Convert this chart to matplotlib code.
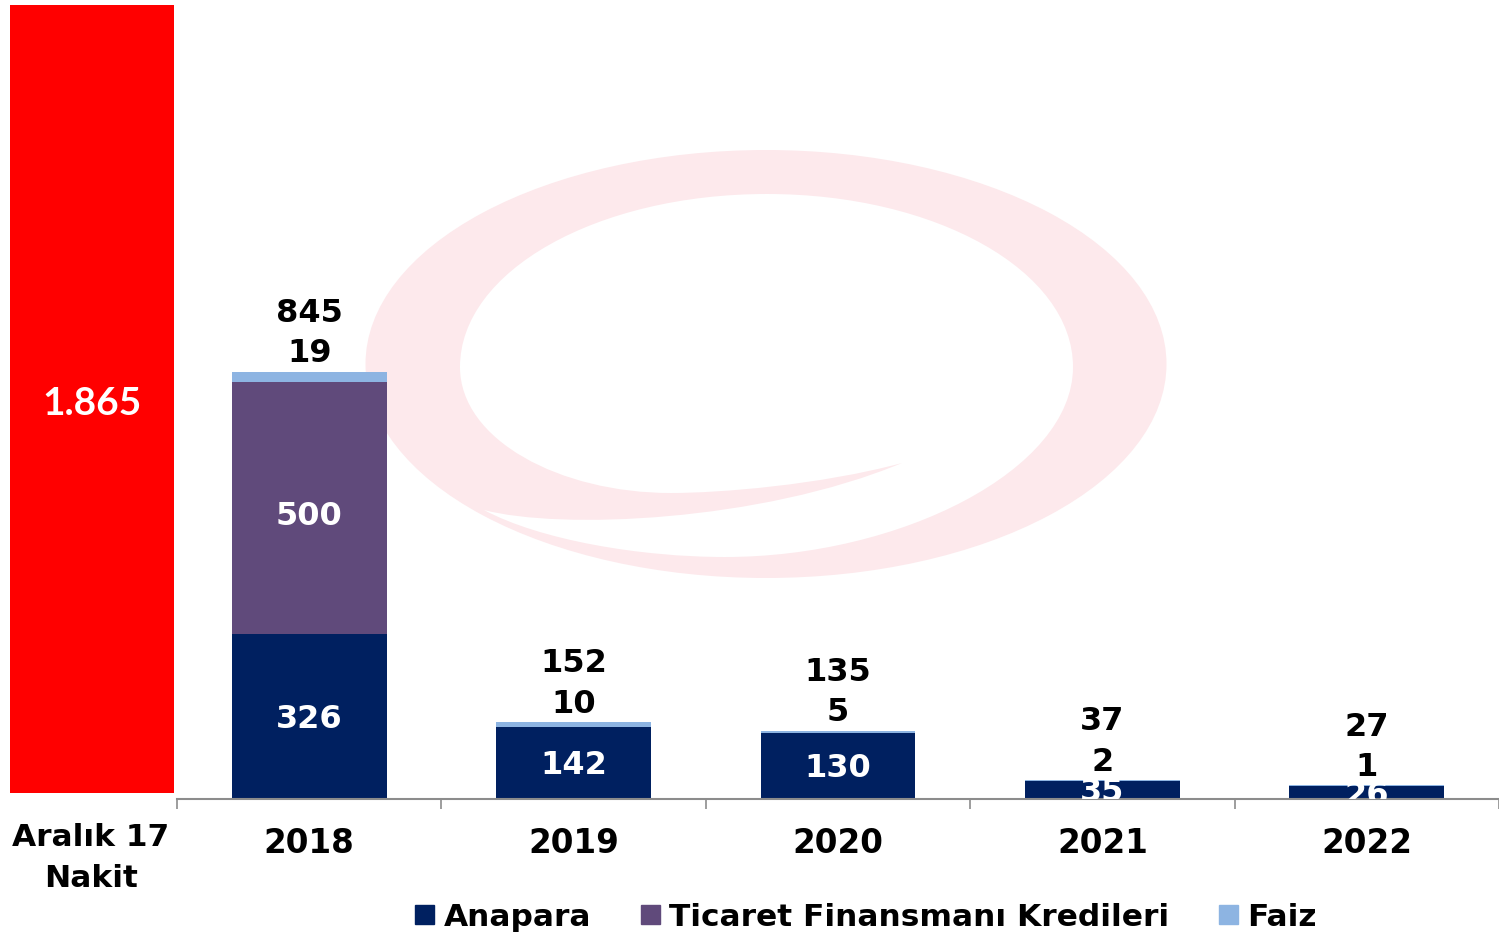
import numpy as np
import matplotlib
matplotlib.use('Agg')
import matplotlib.pyplot as plt
from matplotlib.patches import Ellipse, PathPatch, Patch
from matplotlib.path import Path

# Veriler (milyon)
years = ['2018', '2019', '2020', '2021', '2022']
anapara = [326, 142, 130, 35, 26]
ticaret = [500, 0, 0, 0, 0]
faiz = [19, 10, 5, 2, 1]
toplam = [845, 152, 135, 37, 27]
nakit = 1865
nakit_label = '1.865'
nakit_cat = 'Aralık 17\nNakit'
series_names = ['Anapara', 'Ticaret Finansmanı Kredileri', 'Faiz']

c_anapara = '#002060'
c_ticaret = '#604A7B'
c_faiz = '#8DB4E2'
c_red = '#FF0000'
c_mark = '#FDE9EC'

plt.rcParams['font.family'] = ['DejaVu Sans']
plt.rcParams['font.weight'] = 'bold'

W, H = 1499, 935
fig = plt.figure(figsize=(W / 100, H / 100), dpi=100)

# arka plan logosu (filigran), piksel koordinatlarinda
bg = fig.add_axes([0, 0, 1, 1], zorder=0)
bg.set_xlim(0, W)
bg.set_ylim(H, 0)
bg.axis('off')
bg.add_patch(Ellipse((766, 364), 801, 428, color=c_mark, lw=0))
C4 = Path.CURVE4
hole = Path(
    [(767, 194),
     (936, 194), (1073, 271), (1073, 367),
     (1073, 470), (900, 557), (725, 557),
     (640, 557), (540, 540), (484, 510),
     (560, 530), (760, 522), (902, 463),
     (820, 485), (720, 493), (671, 493),
     (560, 493), (460, 440), (460, 367),
     (460, 271), (597, 194), (767, 194),
     (767, 194)],
    [Path.MOVETO] + [C4] * 21 + [Path.CLOSEPOLY])
bg.add_patch(PathPatch(hole, color='white', lw=0))

# nakit sutunu
ax_red = fig.add_axes([10 / W, (H - 793) / H, 164 / W, 788 / H], zorder=1)
ax_red.bar([0], [nakit], width=1.0, color=c_red)
ax_red.set_xlim(-0.5, 0.5)
ax_red.set_ylim(0, nakit)
ax_red.axis('off')
ax_red.annotate(nakit_label, (0, nakit / 2), xytext=(0, -3), textcoords='offset points',
                color='white', ha='center', va='center',
                fontsize=28, fontweight='bold', family=['Lato', 'DejaVu Sans'])
fig.text(91 / W, 1 - 858 / H, nakit_cat, ha='center', va='center',
         fontsize=22.5, fontweight='bold', linespacing=1.5)

# ana grafik
ax = fig.add_axes([177 / W, (H - 799) / H, (W - 177) / W, 799 / H], zorder=1)
ax.patch.set_alpha(0)
px_per_unit = (799 - 372) / 845
ax.set_ylim(0, 799 / px_per_unit)
ax.set_xlim(-0.5, len(years) - 0.5)

x = np.arange(len(years))
bw = 0.586
bottom2 = np.array(anapara)
bottom3 = bottom2 + np.array(ticaret)
ax.bar(x, anapara, bw, color=c_anapara, label=series_names[0])
ax.bar(x, ticaret, bw, bottom=bottom2, color=c_ticaret, label=series_names[1])
ax.bar(x, faiz, bw, bottom=bottom3, color=c_faiz, label=series_names[2])

fs = 23
for i in range(len(years)):
    top = bottom3[i] + faiz[i]
    ax.annotate(str(toplam[i]), (i, top), xytext=(0, 42), textcoords='offset points',
                ha='center', va='center', fontsize=fs, fontweight='bold')
    ax.annotate(str(faiz[i]), (i, top), xytext=(0, 13), textcoords='offset points',
                ha='center', va='center', fontsize=fs, fontweight='bold')
    ax.annotate(str(anapara[i]), (i, anapara[i] / 2), xytext=(0, -2),
                textcoords='offset points', ha='center', va='center',
                fontsize=fs, fontweight='bold', color='white', clip_on=True)
    if ticaret[i] > 0:
        ax.annotate(str(ticaret[i]), (i, bottom2[i] + ticaret[i] / 2), xytext=(0, -6),
                    textcoords='offset points', ha='center', va='center',
                    fontsize=fs, fontweight='bold', color='white', clip_on=True)

for s in ['top', 'right', 'left']:
    ax.spines[s].set_visible(False)
ax.spines['bottom'].set_color('#8C8C8C')
ax.spines['bottom'].set_linewidth(1.5)
ax.set_yticks([])
ax.set_xticks(x)
ax.set_xticklabels(years, fontsize=23.5, fontweight='bold')
ax.tick_params(axis='x', which='major', length=0, pad=20)
ax.set_xticks(np.arange(-0.5, len(years)), minor=True)
ax.tick_params(axis='x', which='minor', length=7, width=1.2, color='#8C8C8C')

handles = [Patch(color=c_anapara), Patch(color=c_ticaret), Patch(color=c_faiz)]
fig.legend(handles, series_names, loc='center', ncol=3,
           bbox_to_anchor=(866 / W, 1 - 917 / H), frameon=False,
           prop={'size': 22.5, 'weight': 'bold'},
           handlelength=0.6, handleheight=0.6, handletextpad=0.3,
           columnspacing=1.6, borderaxespad=0, borderpad=0)

fig.savefig('out.png', dpi=100)
